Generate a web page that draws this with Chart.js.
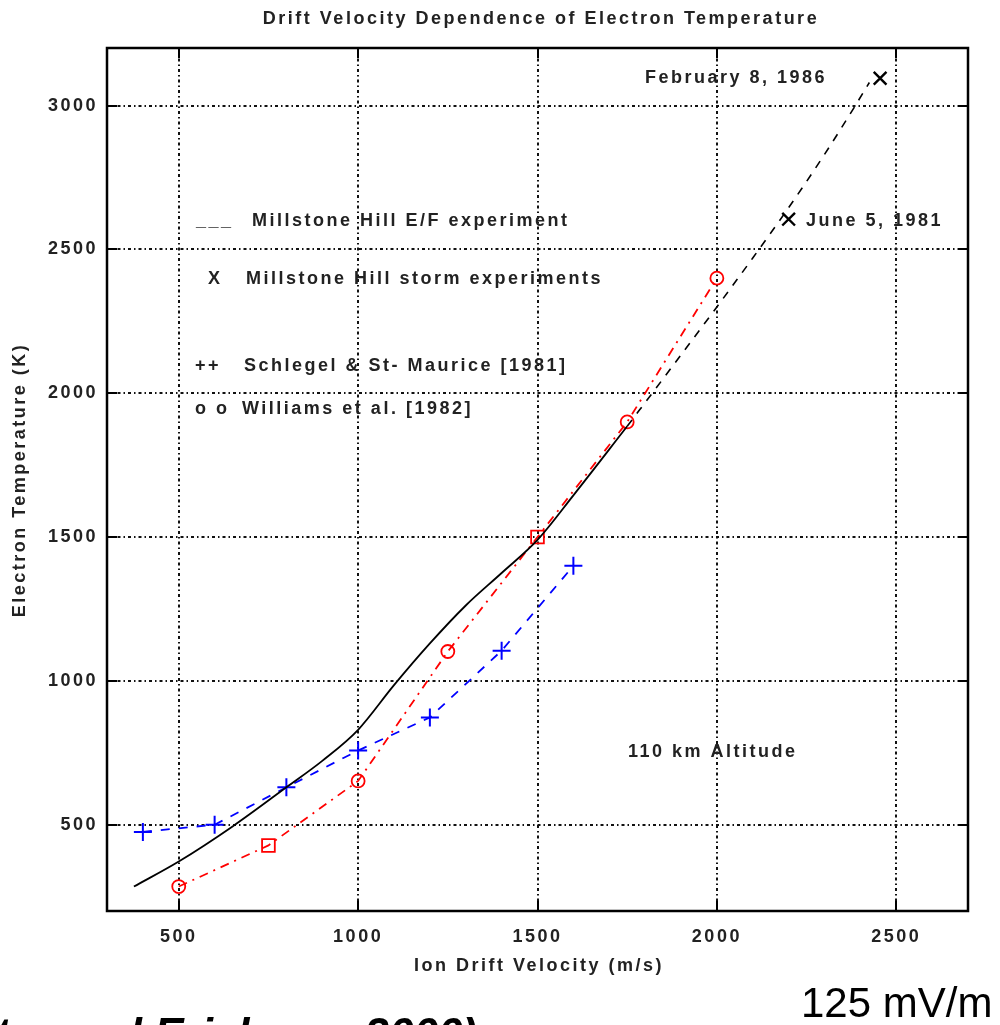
<!DOCTYPE html>
<html>
<head>
<meta charset="utf-8">
<script src="https://cdn.jsdelivr.net/npm/chart.js@4/dist/chart.umd.min.js"></script>
<style>
  html, body { margin: 0; padding: 0; background: #fff; }
  canvas { display: block; }
</style>
</head>
<body>
<canvas id="chart" width="1000" height="1025"></canvas>
<script>
// tick labels
const xTicks = [500, 1000, 1500, 2000, 2500];
const yTicks = [500, 1000, 1500, 2000, 2500, 3000];

// Millstone Hill E/F experiment (solid fit)
const fitVel = [375, 500, 650, 800, 900, 1000, 1100, 1200, 1300, 1400, 1500, 1600, 1750];
const fitTemp = [285, 372, 494, 630, 722, 830, 985, 1130, 1262, 1375, 1490, 1645, 1885];

// extrapolation of the fit (dashed)
const extVel = [1750, 1850, 2000, 2100, 2200, 2300, 2386, 2425];
const extTemp = [1885, 2050, 2300, 2470, 2645, 2830, 3000, 3080];

// Millstone Hill storm experiments
const stormVel = [2200, 2455];
const stormTemp = [2605, 3095];

// Schlegel & St-Maurice [1981]
const schlegelVel = [400, 600, 800, 1000, 1200, 1400, 1600];
const schlegelTemp = [475, 500, 630, 758, 873, 1105, 1400];

// Williams et al. [1982]
const williamsVel = [500, 750, 1000, 1250, 1500, 1750, 2000];
const williamsTemp = [285, 428, 652, 1102, 1500, 1900, 2400];

const pts = (xs, ys) => xs.map((v, i) => ({ x: v, y: ys[i] }));

const FAMILY = '"Liberation Sans", Arial, sans-serif';
const FONT = 'bold 18px ' + FAMILY;
const SPACING = '2.5px';

const decor = {
  id: 'decor',
  beforeDraw(chart) {
    chart.ctx.letterSpacing = SPACING;
  },
  afterDraw(chart) {
    const { ctx, chartArea: a, scales: { x, y } } = chart;
    ctx.save();
    ctx.strokeStyle = '#000';
    ctx.lineWidth = 2;
    ctx.setLineDash([]);
    ctx.beginPath();
    xTicks.forEach(v => {
      const px = Math.round(x.getPixelForValue(v));
      ctx.moveTo(px, a.bottom); ctx.lineTo(px, a.bottom - 10);
      ctx.moveTo(px, a.top); ctx.lineTo(px, a.top + 10);
    });
    yTicks.forEach(v => {
      const py = Math.round(y.getPixelForValue(v));
      ctx.moveTo(a.left, py); ctx.lineTo(a.left + 10, py);
      ctx.moveTo(a.right, py); ctx.lineTo(a.right - 10, py);
    });
    ctx.stroke();
    ctx.lineWidth = 2.5;
    ctx.strokeRect(a.left, a.top, a.right - a.left, a.bottom - a.top);

    ctx.fillStyle = '#222';
    ctx.font = FONT;
    ctx.letterSpacing = SPACING;
    ctx.textBaseline = 'middle';

    ctx.textAlign = 'center';
    ctx.fillText('Drift Velocity Dependence of Electron Temperature', 541, 19);
    ctx.fillText('Ion Drift Velocity (m/s)', 539, 966);

    ctx.textAlign = 'left';
    ctx.fillText('February 8, 1986', 645, 78);
    ctx.fillText('June 5, 1981', 806, 221);
    ctx.fillText('___', 196, 221);
    ctx.fillText('Millstone Hill E/F experiment', 252, 221);
    ctx.fillText('X', 208, 279);
    ctx.fillText('Millstone Hill storm experiments', 246, 279);
    ctx.fillText('++', 195, 366);
    ctx.fillText('Schlegel & St- Maurice [1981]', 244, 366);
    ctx.fillText('o o', 195, 409);
    ctx.fillText('Williams et al. [1982]', 242, 409);
    ctx.fillText('110 km Altitude', 628, 752);

    ctx.save();
    ctx.translate(20, 480);
    ctx.rotate(-Math.PI / 2);
    ctx.textAlign = 'center';
    ctx.fillText('Electron Temperature (K)', 0, 0);
    ctx.restore();

    // slide text below the figure
    ctx.letterSpacing = '0px';
    ctx.fillStyle = '#000';
    ctx.textBaseline = 'alphabetic';
    ctx.font = '42px ' + FAMILY;
    ctx.textAlign = 'left';
    ctx.fillText('125 mV/m', 801, 1017);
    ctx.font = 'italic bold 44px ' + FAMILY;
    ctx.textAlign = 'right';
    ctx.fillText('(Foster and Erickson, 2000)', 477, 1049);
    ctx.restore();
  }
};

new Chart(document.getElementById('chart'), {
  type: 'scatter',
  data: {
    datasets: [
      {
        label: 'Millstone Hill E/F experiment',
        data: pts(fitVel, fitTemp),
        showLine: true,
        borderColor: '#000',
        borderWidth: 1.8,
        pointRadius: 0,
        cubicInterpolationMode: 'monotone',
      },
      {
        label: 'extrapolation',
        data: pts(extVel, extTemp),
        showLine: true,
        borderColor: '#000',
        borderWidth: 1.6,
        borderDash: [8, 8],
        pointRadius: 0,
        cubicInterpolationMode: 'monotone',
      },
      {
        label: 'Schlegel & St-Maurice [1981]',
        data: pts(schlegelVel, schlegelTemp),
        showLine: true,
        borderColor: '#0000ff',
        borderWidth: 1.8,
        borderDash: [9, 9],
        pointStyle: 'cross',
        pointRadius: 9,
        pointBorderWidth: 2,
        pointBorderColor: '#0000ff',
      },
      {
        label: 'Williams et al. [1982]',
        data: pts(williamsVel, williamsTemp),
        showLine: true,
        borderColor: '#ff0000',
        borderWidth: 1.8,
        borderDash: [9, 6, 2, 6],
        pointStyle: ['circle', 'rect', 'circle', 'circle', 'rect', 'circle', 'circle'],
        pointRadius: [6.5, 9, 6.5, 6.5, 9, 6.5, 6.5],
        pointBorderWidth: 1.8,
        pointBorderColor: '#ff0000',
        pointBackgroundColor: 'rgba(0,0,0,0)',
      },
      {
        label: 'Millstone Hill storm experiments',
        data: pts(stormVel, stormTemp),
        showLine: false,
        pointStyle: 'crossRot',
        pointRadius: 9,
        pointBorderWidth: 2.4,
        pointBorderColor: '#000',
      },
    ],
  },
  options: {
    responsive: false,
    animation: false,
    layout: { padding: { top: 48, right: 32, left: 0, bottom: 0 } },
    plugins: {
      legend: { display: false },
      title: { display: false },
      tooltip: { enabled: false },
    },
    scales: {
      x: {
        type: 'linear',
        min: 300,
        max: 2700,
        afterBuildTicks: s => { s.ticks = xTicks.map(v => ({ value: v })); },
        afterFit: s => { s.height = 114; },
        grid: { color: '#111', lineWidth: 2, drawTicks: false },
        border: { display: false, dash: [3, 3, 1.5, 3] },
        ticks: {
          color: '#222',
          padding: 15,
          maxRotation: 0,
          callback: v => String(v),
          font: { family: FAMILY, size: 18, weight: 'bold' },
        },
      },
      y: {
        type: 'linear',
        min: 200,
        max: 3200,
        afterBuildTicks: s => { s.ticks = yTicks.map(v => ({ value: v })); },
        afterFit: s => { s.width = 107; },
        grid: { color: '#111', lineWidth: 2, drawTicks: false },
        border: { display: false, dash: [3, 3, 1.5, 3] },
        ticks: {
          color: '#222',
          padding: 9,
          callback: v => String(v),
          font: { family: FAMILY, size: 18, weight: 'bold' },
        },
      },
    },
  },
  plugins: [decor],
});
</script>
</body>
</html>
